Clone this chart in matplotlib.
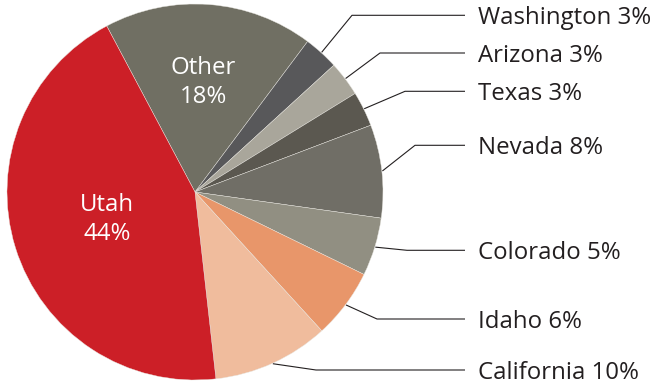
import numpy as np
import matplotlib.pyplot as plt

# Data
states = ["Other", "Washington", "Arizona", "Texas", "Nevada", "Colorado", "Idaho", "California", "Utah"]
shares = [18, 3, 3, 3, 8, 5, 6, 10, 44]
colors = ["#706f63", "#58585a", "#a9a69b", "#5b5850", "#706e66", "#918f82", "#e8966a", "#f0bc9d", "#cc1f27"]

# Labels outside the pie (with leader lines)
outside = ["Washington", "Arizona", "Texas", "Nevada", "Colorado", "Idaho", "California"]
label_y = [369.7, 332, 293.7, 239.7, 134.7, 66, 15]
elbow_x = [352, 380, 405, 415, 407, 377, 316]

plt.rcParams['font.family'] = ['Open Sans', 'DejaVu Sans']

fig = plt.figure(figsize=(6.55, 3.85), dpi=100)
ax = fig.add_axes([0, 0, 1, 1])

cx, cy, R = 195, 193, 188
wedges, _ = ax.pie(shares, colors=colors, startangle=118, counterclock=False,
                   center=(cx, cy), radius=R,
                   wedgeprops=dict(edgecolor="#e8e6e0", linewidth=0.3))

def mid_angle(w):
    return np.deg2rad((w.theta1 + w.theta2) / 2)

fs = 17.3
line_end = 465
for name, ly, ex in zip(outside, label_y, elbow_x):
    i = states.index(name)
    a = mid_angle(wedges[i])
    sx, sy = cx + R * 1.003 * np.cos(a), cy + R * 1.003 * np.sin(a)
    ax.plot([sx, ex, line_end], [sy, ly, ly], color="#231f20", lw=0.8, solid_capstyle="butt")
    ax.text(478, ly - 8.8, f"{name} {shares[i]}%", fontsize=fs, color="#231f20",
            ha="left", va="baseline")

# Labels inside the pie
inside = {"Other": 0.585, "Utah": 0.49}
for name, d in inside.items():
    i = states.index(name)
    a = mid_angle(wedges[i])
    tx, ty = cx + R * d * np.cos(a), cy + R * d * np.sin(a)
    ax.text(tx, ty, f"{name}\n{shares[i]}%", fontsize=fs, color="white",
            ha="center", va="center", linespacing=1.3)

ax.set_xlim(0, 655)
ax.set_ylim(0, 385)
ax.set_aspect("equal")
ax.axis("off")

fig.savefig("out.png", dpi=100)
